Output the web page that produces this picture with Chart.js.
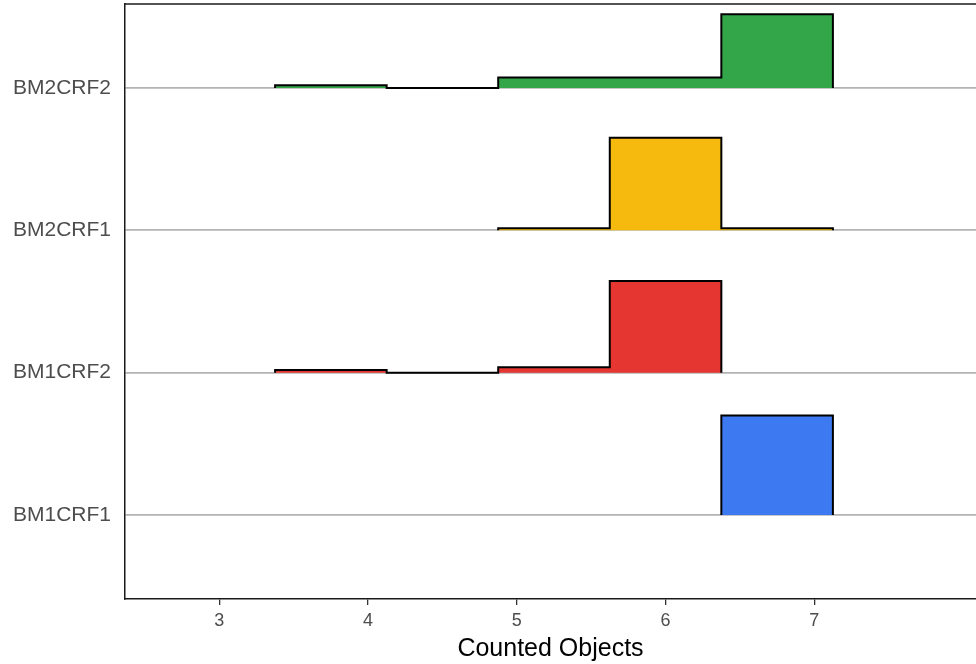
<!DOCTYPE html>
<html>
<head>
<meta charset="utf-8">
<script src="https://cdn.jsdelivr.net/npm/chart.js@4"></script>
<style>
  html, body { margin: 0; padding: 0; background: #fff; }
  #wrap { width: 976px; height: 664px; }
</style>
</head>
<body>
<div id="wrap"><canvas id="ridges"></canvas></div>
<script>
// groups from bottom to top
const groups = ['BM1CRF1', 'BM1CRF2', 'BM2CRF1', 'BM2CRF2'];
const groupColors = ['#3D79F1', '#E53631', '#F6B90D', '#34A64A'];

// histogram bin edges (Counted Objects)
const binEdges = [3.375, 4.125, 4.875, 5.625, 6.375, 7.125];

// share of each group in every bin (null = bin not drawn)
const bm1crf1 = [null, null, null, null, 1.0];
const bm1crf2 = [0.027, 0.0, 0.054, 0.919, null];
const bm2crf1 = [null, null, 0.02, 0.93, 0.02];
const bm2crf2 = [0.028, 0.0, 0.105, 0.105, 0.74];

const xTicks = [3, 4, 5, 6, 7];

// ridge height of a full bin, in y units
const ridgeScale = 0.7;

function ridgePoints(shares, base) {
  const pts = [];
  let first = shares.findIndex(v => v !== null);
  let last = shares.length - 1;
  while (shares[last] === null) last--;
  pts.push({ x: binEdges[first], y: base });
  for (let i = first; i <= last; i++) {
    pts.push({ x: binEdges[i + 1], y: base + shares[i] * ridgeScale });
  }
  pts.push({ x: binEdges[last + 1], y: base });
  return pts;
}

const allShares = [bm1crf1, bm1crf2, bm2crf1, bm2crf2];
const datasets = allShares.map((s, i) => ({
  label: groups[i],
  data: ridgePoints(s, i),
  stepped: 'after',
  borderColor: '#000',
  borderWidth: 2,
  backgroundColor: groupColors[i],
  fill: { value: i },
  pointRadius: 0,
  tension: 0
}));

// top frame line of the panel
const topBorder = {
  id: 'topBorder',
  afterDraw(chart) {
    const { ctx, chartArea } = chart;
    ctx.save();
    ctx.strokeStyle = '#1a1a1a';
    ctx.lineWidth = 1.5;
    ctx.beginPath();
    ctx.moveTo(chartArea.left - 0.75, chartArea.top);
    ctx.lineTo(chartArea.right, chartArea.top);
    ctx.stroke();
    ctx.restore();
  }
};

const ctx = document.getElementById('ridges').getContext('2d');
new Chart(ctx, {
  type: 'line',
  data: { datasets: datasets },
  plugins: [topBorder],
  options: {
    responsive: true,
    maintainAspectRatio: false,
    animation: false,
    layout: { padding: { left: 0, right: 0, top: 4, bottom: 0 } },
    plugins: { legend: { display: false }, tooltip: { enabled: false } },
    scales: {
      x: {
        type: 'linear',
        min: 2.366,
        max: 8.087,
        afterBuildTicks: axis => { axis.ticks = xTicks.map(v => ({ value: v })); },
        afterFit: axis => { axis.height = 65; axis.paddingLeft = 0; axis.paddingRight = 0; },
        grid: { drawOnChartArea: false, tickLength: 6, color: '#333', lineWidth: 1.3 },
        border: { color: '#1a1a1a', width: 1.5 },
        ticks: { color: '#4d4d4d', font: { family: 'Liberation Sans', size: 18 }, padding: 5 },
        title: { display: true, text: 'Counted Objects', color: '#000',
                 font: { family: 'Liberation Sans', size: 25 }, padding: { top: 4, bottom: 0 } }
      },
      y: {
        type: 'linear',
        min: -0.59,
        max: 3.59,
        afterBuildTicks: axis => { axis.ticks = groups.map((g, i) => ({ value: i })); },
        afterFit: axis => { axis.width = 125; axis.paddingTop = 0; axis.paddingBottom = 0; },
        grid: { color: '#b3b3b3', lineWidth: 1.8, drawTicks: false },
        border: { color: '#1a1a1a', width: 1.5 },
        ticks: {
          color: '#4d4d4d',
          font: { family: 'Liberation Sans', size: 21 },
          padding: 14,
          callback: v => groups[v]
        }
      }
    }
  }
});
</script>
</body>
</html>
